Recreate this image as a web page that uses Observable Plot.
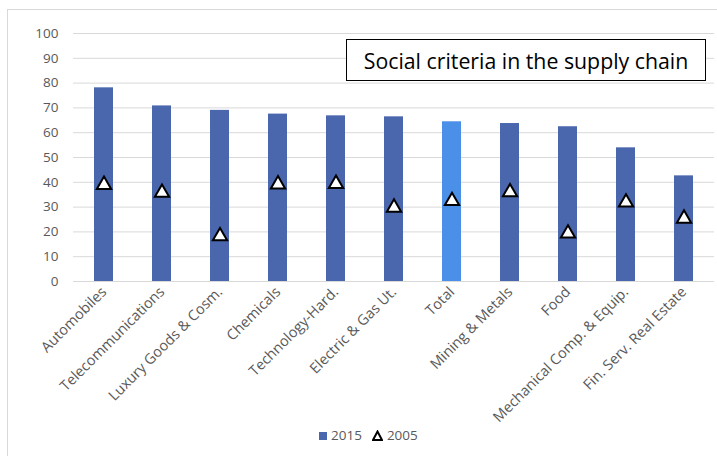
<!DOCTYPE html>
<html>
<head>
<meta charset="utf-8">
<script src="https://cdn.jsdelivr.net/npm/d3@7"></script>
<script src="https://cdn.jsdelivr.net/npm/@observablehq/plot@0.6"></script>
<style>
  html, body { margin: 0; padding: 0; background: #fff; overflow: hidden; width: 717px; height: 456px; }
  body { position: relative; font-family: "Open Sans", sans-serif; }
  #frame { position: absolute; left: 7px; top: 9px; width: 800px; height: 600px; border: 1px solid #d9d9d9; box-sizing: border-box; }
  #chart { position: absolute; left: 0; top: 0; }
  #title { position: absolute; left: 346px; top: 39px; width: 360px; height: 42px; border: 1.5px solid #000; box-sizing: border-box;
           display: flex; align-items: center; justify-content: center; font-size: 21.3px; color: #000; background: #fff; }
  #legend { position: absolute; left: 319px; top: 426px; display: flex; align-items: center;
            font-size: 13.5px; color: #595959; }
  #legend .item { display: flex; align-items: center; gap: 4px; margin-right: 10px; }
</style>
</head>
<body>
<div id="frame"></div>
<div id="chart"></div>
<div id="title">Social criteria in the supply chain</div>
<div id="legend">
  <span class="item"><svg width="8" height="9"><rect width="8" height="8" y="1" fill="#4a67ae"></rect></svg>2015</span>
  <span class="item"><svg width="11" height="11"><path d="M5.5,1.5 L10,10 L1,10 Z" fill="#fff" stroke="#000" stroke-width="2"></path></svg>2005</span>
</div>
<script>
const categories = ["Automobiles", "Telecommunications", "Luxury Goods & Cosm.", "Chemicals", "Technology-Hard.", "Electric & Gas Ut.", "Total", "Mining & Metals", "Food", "Mechanical Comp. & Equip.", "Fin. Serv. Real Estate"];
const values2015 = [78.1, 70.8, 69, 67.5, 66.8, 66.4, 64.4, 63.7, 62.4, 53.9, 42.6];
const values2005 = [39.8, 36.6, 19.1, 40, 40.2, 30.6, 33.3, 36.8, 20.2, 32.7, 26.2];
const yTicks = [0, 10, 20, 30, 40, 50, 60, 70, 80, 90, 100];

const data = categories.map((c, i) => ({category: c, v2015: values2015[i], v2005: values2005[i], total: c === "Total"}));

const chart = Plot.plot({
  width: 717,
  height: 456,
  marginTop: 33,
  marginBottom: 175,
  marginLeft: 73,
  marginRight: 3,
  style: {fontFamily: "Open Sans, sans-serif", fontSize: "13.5px", color: "#595959", background: "transparent"},
  x: {domain: categories, paddingInner: 0.68, paddingOuter: 0.34, label: null},
  y: {domain: [0, 100], ticks: yTicks, label: null, tickSize: 0, tickPadding: 15},
  marks: [
    Plot.gridY(yTicks, {stroke: "#d9d9d9", strokeOpacity: 1, strokeWidth: 1}),
    Plot.barY(data, {x: "category", y: "v2015", fill: d => d.total ? "#4a8fe8" : "#4a67ae"}),
    Plot.dot(data, {x: "category", y: "v2005", symbol: "triangle", r: 5.3, fill: "#fff", stroke: "#000", strokeWidth: 2, dy: 2}),
    Plot.axisX({tickRotate: -45, tickSize: 0, tickPadding: 8, fontSize: 14.5, label: null})
  ]
});
document.getElementById("chart").appendChild(chart);
</script>
</body>
</html>
